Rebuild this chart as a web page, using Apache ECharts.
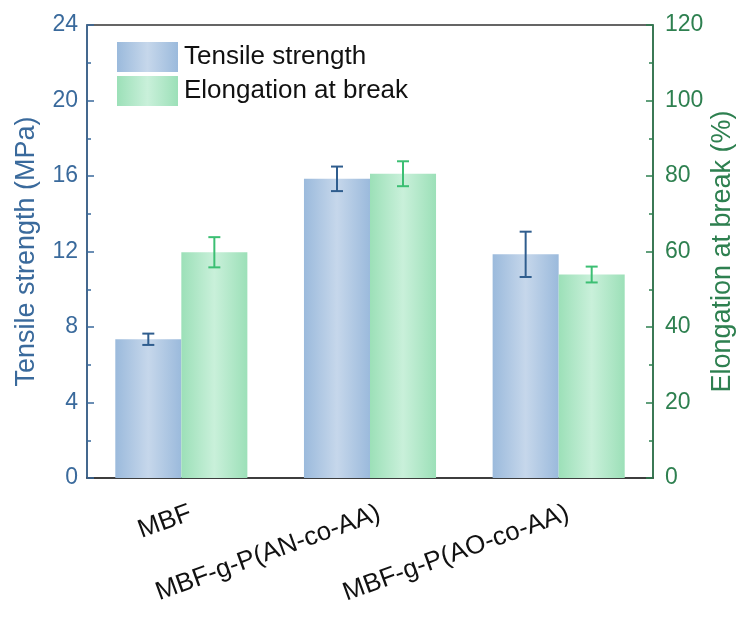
<!DOCTYPE html>
<html><head><meta charset="utf-8">
<script src="https://cdn.jsdelivr.net/npm/echarts@6/dist/echarts.min.js"></script>
<style>html,body{margin:0;padding:0;background:#fff}#c{width:742px;height:631px}</style>
</head><body><div id="c"></div>
<script>
var categories = ['MBF', 'MBF-g-P(AN-co-AA)', 'MBF-g-P(AO-co-AA)'];
var tensile = [7.35, 15.85, 11.85];
var tensileErr = [0.3, 0.65, 1.2];
var elongation = [59.8, 80.6, 53.9];
var elongationErr = [4.0, 3.3, 2.1];
var leftTicks = [0, 4, 8, 12, 16, 20, 24];
var rightTicks = [0, 20, 40, 60, 80, 100, 120];

var blue = '#3a6a9c', green = '#2e8050';
function grad(edge, mid) {
  return new echarts.graphic.LinearGradient(0, 0, 1, 0, [
    {offset: 0, color: edge}, {offset: 0.5, color: mid}, {offset: 1, color: edge}]);
}
function errSeries(vals, errs, yIdx, side, color) {
  return {
    type: 'custom', yAxisIndex: yIdx, silent: true, z: 5,
    data: vals.map(function (v, i) { return [i, v, errs[i]]; }),
    renderItem: function (params, api) {
      var i = api.value(0), v = api.value(1), e = api.value(2);
      var band = api.size([1, 0])[0];
      var x = api.coord([i, v])[0] + side * band * 0.175;
      var yt = api.coord([i, v + e])[1], yb = api.coord([i, v - e])[1];
      var w = 6;
      var st = {stroke: color, lineWidth: 2};
      return {type: 'group', children: [
        {type: 'line', shape: {x1: x, y1: yt, x2: x, y2: yb}, style: st},
        {type: 'line', shape: {x1: x - w, y1: yt, x2: x + w, y2: yt}, style: st},
        {type: 'line', shape: {x1: x - w, y1: yb, x2: x + w, y2: yb}, style: st}
      ]};
    }
  };
}
var chart = echarts.init(document.getElementById('c'));
chart.setOption({
  animation: false,
  textStyle: {fontFamily: 'Liberation Sans, Arial, sans-serif'},
  grid: {left: 87, right: 89, top: 25, bottom: 153, show: true, borderColor: '#333', borderWidth: 1.5,
         containLabel: false, outerBoundsMode: 'none'},
  legend: {
    left: 112, top: 37, orient: 'vertical', itemWidth: 61, itemHeight: 30, itemGap: 4,
    icon: 'rect', textStyle: {fontSize: 26, color: '#111', padding: [0, 0, 0, 1]},
    data: ['Tensile strength', 'Elongation at break']
  },
  xAxis: {
    type: 'category', data: categories,
    axisLine: {lineStyle: {color: '#333', width: 1.5}},
    axisTick: {alignWithLabel: true, length: 6, lineStyle: {color: '#333', width: 1.5}},
    axisLabel: {rotate: 20, fontSize: 26, color: '#111', margin: 38, padding: [0, -10, 0, 0]}
  },
  yAxis: [{
    type: 'value', min: 0, max: 24, interval: 4, position: 'left',
    name: 'Tensile strength (MPa)', nameLocation: 'middle', nameGap: 47, nameRotate: 90,
    nameMoveOverlap: false,
    nameTextStyle: {fontSize: 27, color: blue},
    axisLine: {show: true, lineStyle: {color: blue, width: 1.5}},
    axisTick: {show: true, inside: true, length: 7, lineStyle: {color: blue, width: 1.5}},
    minorTick: {show: true, splitNumber: 2, length: 4, lineStyle: {color: blue, width: 1.5}},
    axisLabel: {fontSize: 23, color: blue, margin: 9},
    splitLine: {show: false}
  }, {
    type: 'value', min: 0, max: 120, interval: 20, position: 'right',
    name: 'Elongation at break (%)', nameLocation: 'middle', nameGap: 56, nameRotate: 90,
    nameMoveOverlap: false,
    nameTextStyle: {fontSize: 27, color: green},
    axisLine: {show: true, lineStyle: {color: green, width: 1.5}},
    axisTick: {show: true, inside: true, length: 7, lineStyle: {color: green, width: 1.5}},
    minorTick: {show: true, splitNumber: 2, length: 4, lineStyle: {color: green, width: 1.5}},
    axisLabel: {fontSize: 23, color: green, margin: 12},
    splitLine: {show: false}
  }],
  series: [{
    name: 'Tensile strength', type: 'bar', yAxisIndex: 0, data: tensile,
    barGap: '0%', barCategoryGap: '30%',
    itemStyle: {color: grad('#9bbadc', '#c6d7eb')}
  }, {
    name: 'Elongation at break', type: 'bar', yAxisIndex: 1, data: elongation,
    barGap: '0%', barCategoryGap: '30%',
    itemStyle: {color: grad('#9ce0b8', '#c9f0da')}
  },
  errSeries(tensile, tensileErr, 0, -1, '#2f5d8e'),
  errSeries(elongation, elongationErr, 1, 1, '#3cbf73')]
});
</script></body></html>
